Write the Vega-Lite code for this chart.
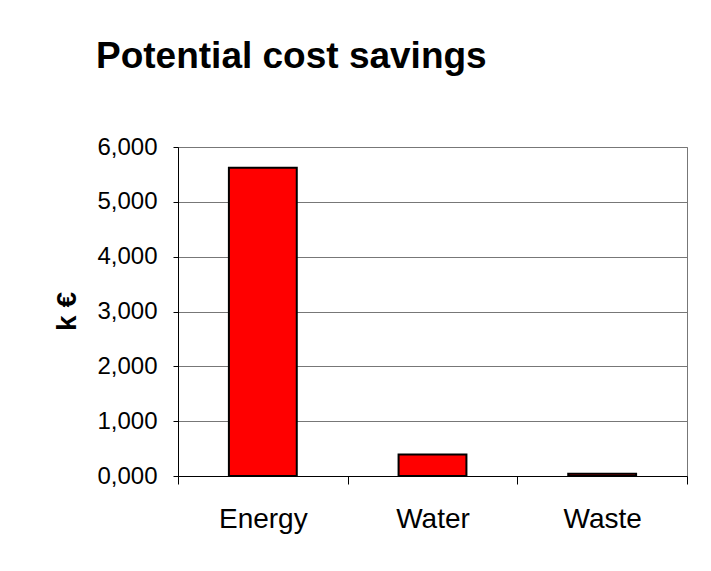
{
  "$schema": "https://vega.github.io/schema/vega-lite/v6.json",
  "width": 509,
  "height": 329,
  "autosize": {"type": "none"},
  "padding": {"left": 178, "top": 147, "right": 24, "bottom": 95},
  "background": "white",
  "title": {
    "text": "Potential cost savings",
    "anchor": "start",
    "frame": "group",
    "dx": -82,
    "offset": 30,
    "baseline": "alphabetic",
    "font": "Liberation Sans",
    "fontSize": 37,
    "fontWeight": "bold",
    "color": "black"
  },
  "data": {
    "values": [
      {"category": "Energy", "savings": 5620},
      {"category": "Water", "savings": 390},
      {"category": "Waste", "savings": 40}
    ]
  },
  "mark": {"type": "bar", "color": "#FF0000", "stroke": "black", "strokeWidth": 2, "width": {"band": 0.4}},
  "encoding": {
    "x": {
      "field": "category",
      "type": "nominal",
      "sort": null,
      "scale": {"paddingInner": 0, "paddingOuter": 0},
      "axis": {
        "title": null,
        "labelAngle": 0,
        "labelFont": "Liberation Sans",
        "labelFontSize": 28,
        "labelColor": "black",
        "labelPadding": 21,
        "tickSize": 8,
        "tickColor": "black",
        "tickBand": "extent",
        "domainColor": "black",
        "grid": false
      }
    },
    "y": {
      "field": "savings",
      "type": "quantitative",
      "scale": {"domain": [0, 6000], "nice": false},
      "axis": {
        "title": "k €",
        "titleFont": "Liberation Sans",
        "titleFontSize": 28,
        "titleFontWeight": "bold",
        "titleColor": "black",
        "titleAngle": -90,
        "titleX": -111,
        "titleY": 164,
        "titleAlign": "center",
        "titleBaseline": "middle",
        "values": [0, 1000, 2000, 3000, 4000, 5000, 6000],
        "labelExpr": "replace(format(datum.value / 1000, '.3f'), '.', ',')",
        "labelFont": "Liberation Sans",
        "labelFontSize": 24,
        "labelColor": "black",
        "labelPadding": 16,
        "tickSize": 5,
        "tickColor": "black",
        "domainColor": "black",
        "gridColor": "#777777",
        "gridWidth": 1
      }
    }
  },
  "config": {
    "view": {"stroke": "#777777", "strokeWidth": 1}
  }
}
